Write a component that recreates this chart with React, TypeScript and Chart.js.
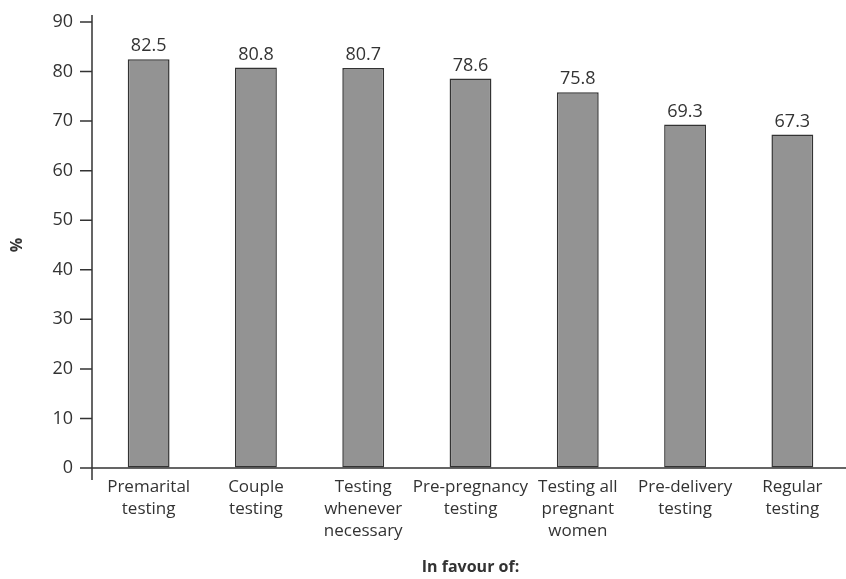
import React, { useEffect, useRef } from "react";
import { Chart, registerables } from "chart.js";

Chart.register(...registerables);

const categories: string[][] = [
  ["Premarital", "testing"],
  ["Couple", "testing"],
  ["Testing", "whenever", "necessary"],
  ["Pre-pregnancy", "testing"],
  ["Testing all", "pregnant", "women"],
  ["Pre-delivery", "testing"],
  ["Regular", "testing"],
];
const values: number[] = [82.5, 80.8, 80.7, 78.6, 75.8, 69.3, 67.3];
const yTickValues: number[] = [0, 10, 20, 30, 40, 50, 60, 70, 80, 90];
const yTitle = "%";
const xTitle = "In favour of:";

const FONT = "'Open Sans', 'DejaVu Sans', sans-serif";
const INK = "#333333";

export default function App() {
  const ref = useRef<HTMLCanvasElement | null>(null);

  useEffect(() => {
    document.body.style.margin = "0";
    const canvas = ref.current;
    if (!canvas) return;

    const valueLabels = {
      id: "valueLabels",
      afterDatasetsDraw(chart: any) {
        const ctx = chart.ctx;
        const meta = chart.getDatasetMeta(0);
        ctx.save();
        ctx.fillStyle = INK;
        ctx.font = `18px ${FONT}`;
        ctx.textAlign = "center";
        ctx.textBaseline = "bottom";
        meta.data.forEach((bar: any, i: number) => {
          ctx.fillText(values[i].toFixed(1), bar.x, bar.y - 4);
        });
        ctx.restore();
      },
    };

    const axisLines = {
      id: "axisLines",
      afterDraw(chart: any) {
        const ctx = chart.ctx;
        const area = chart.chartArea;
        const yScale = chart.scales.y;
        const ax = area.left - 3;
        ctx.save();
        ctx.strokeStyle = INK;
        ctx.lineWidth = 1.5;
        ctx.beginPath();
        ctx.moveTo(ax, area.top - 7);
        ctx.lineTo(ax, area.bottom + 12);
        ctx.moveTo(ax - 12, area.bottom);
        ctx.lineTo(chart.width, area.bottom);
        yTickValues.forEach((v) => {
          const py = yScale.getPixelForValue(v);
          ctx.moveTo(ax - 12, py);
          ctx.lineTo(ax, py);
        });
        ctx.stroke();
        ctx.restore();
      },
    };

    const chart = new Chart(canvas, {
      type: "bar",
      data: {
        labels: categories,
        datasets: [
          {
            data: values,
            backgroundColor: "#939393",
            borderColor: INK,
            borderWidth: 1.5,
            borderSkipped: false,
            barPercentage: 0.78,
            categoryPercentage: 0.5,
          },
        ],
      },
      options: {
        animation: false,
        responsive: false,
        layout: { padding: { top: 22, right: 0, bottom: 0, left: 0 } },
        plugins: {
          legend: { display: false },
          tooltip: { enabled: false },
        },
        scales: {
          x: {
            grid: { display: false, drawTicks: false },
            border: { display: false },
            ticks: {
              color: INK,
              font: { family: FONT, size: 17, lineHeight: 1.3 },
              padding: 8,
              maxRotation: 0,
              autoSkip: false,
            },
            title: {
              display: true,
              text: xTitle,
              color: INK,
              font: { family: FONT, size: 16, weight: "bold" },
              padding: { top: 0, bottom: 2 },
            },
            afterFit: (s: any) => {
              s.height = 111;
            },
          },
          y: {
            min: 0,
            max: 90,
            grid: {
              display: true,
              drawOnChartArea: false,
              drawTicks: true,
              tickLength: 16,
              color: "rgba(0,0,0,0)",
            },
            border: { display: false },
            ticks: {
              stepSize: 10,
              color: INK,
              font: { family: FONT, size: 18 },
              padding: 6,
            },
            title: {
              display: true,
              text: yTitle,
              color: INK,
              font: { family: FONT, size: 16, weight: "bold" },
              padding: { top: 8, bottom: 0 },
            },
            afterFit: (s: any) => {
              s.width = 95;
            },
          },
        },
      },
      plugins: [valueLabels, axisLines],
    });

    return () => chart.destroy();
  }, []);

  return (
    <div style={{ width: 846, height: 579 }}>
      <canvas ref={ref} width={846} height={579} style={{ display: "block" }} />
    </div>
  );
}
